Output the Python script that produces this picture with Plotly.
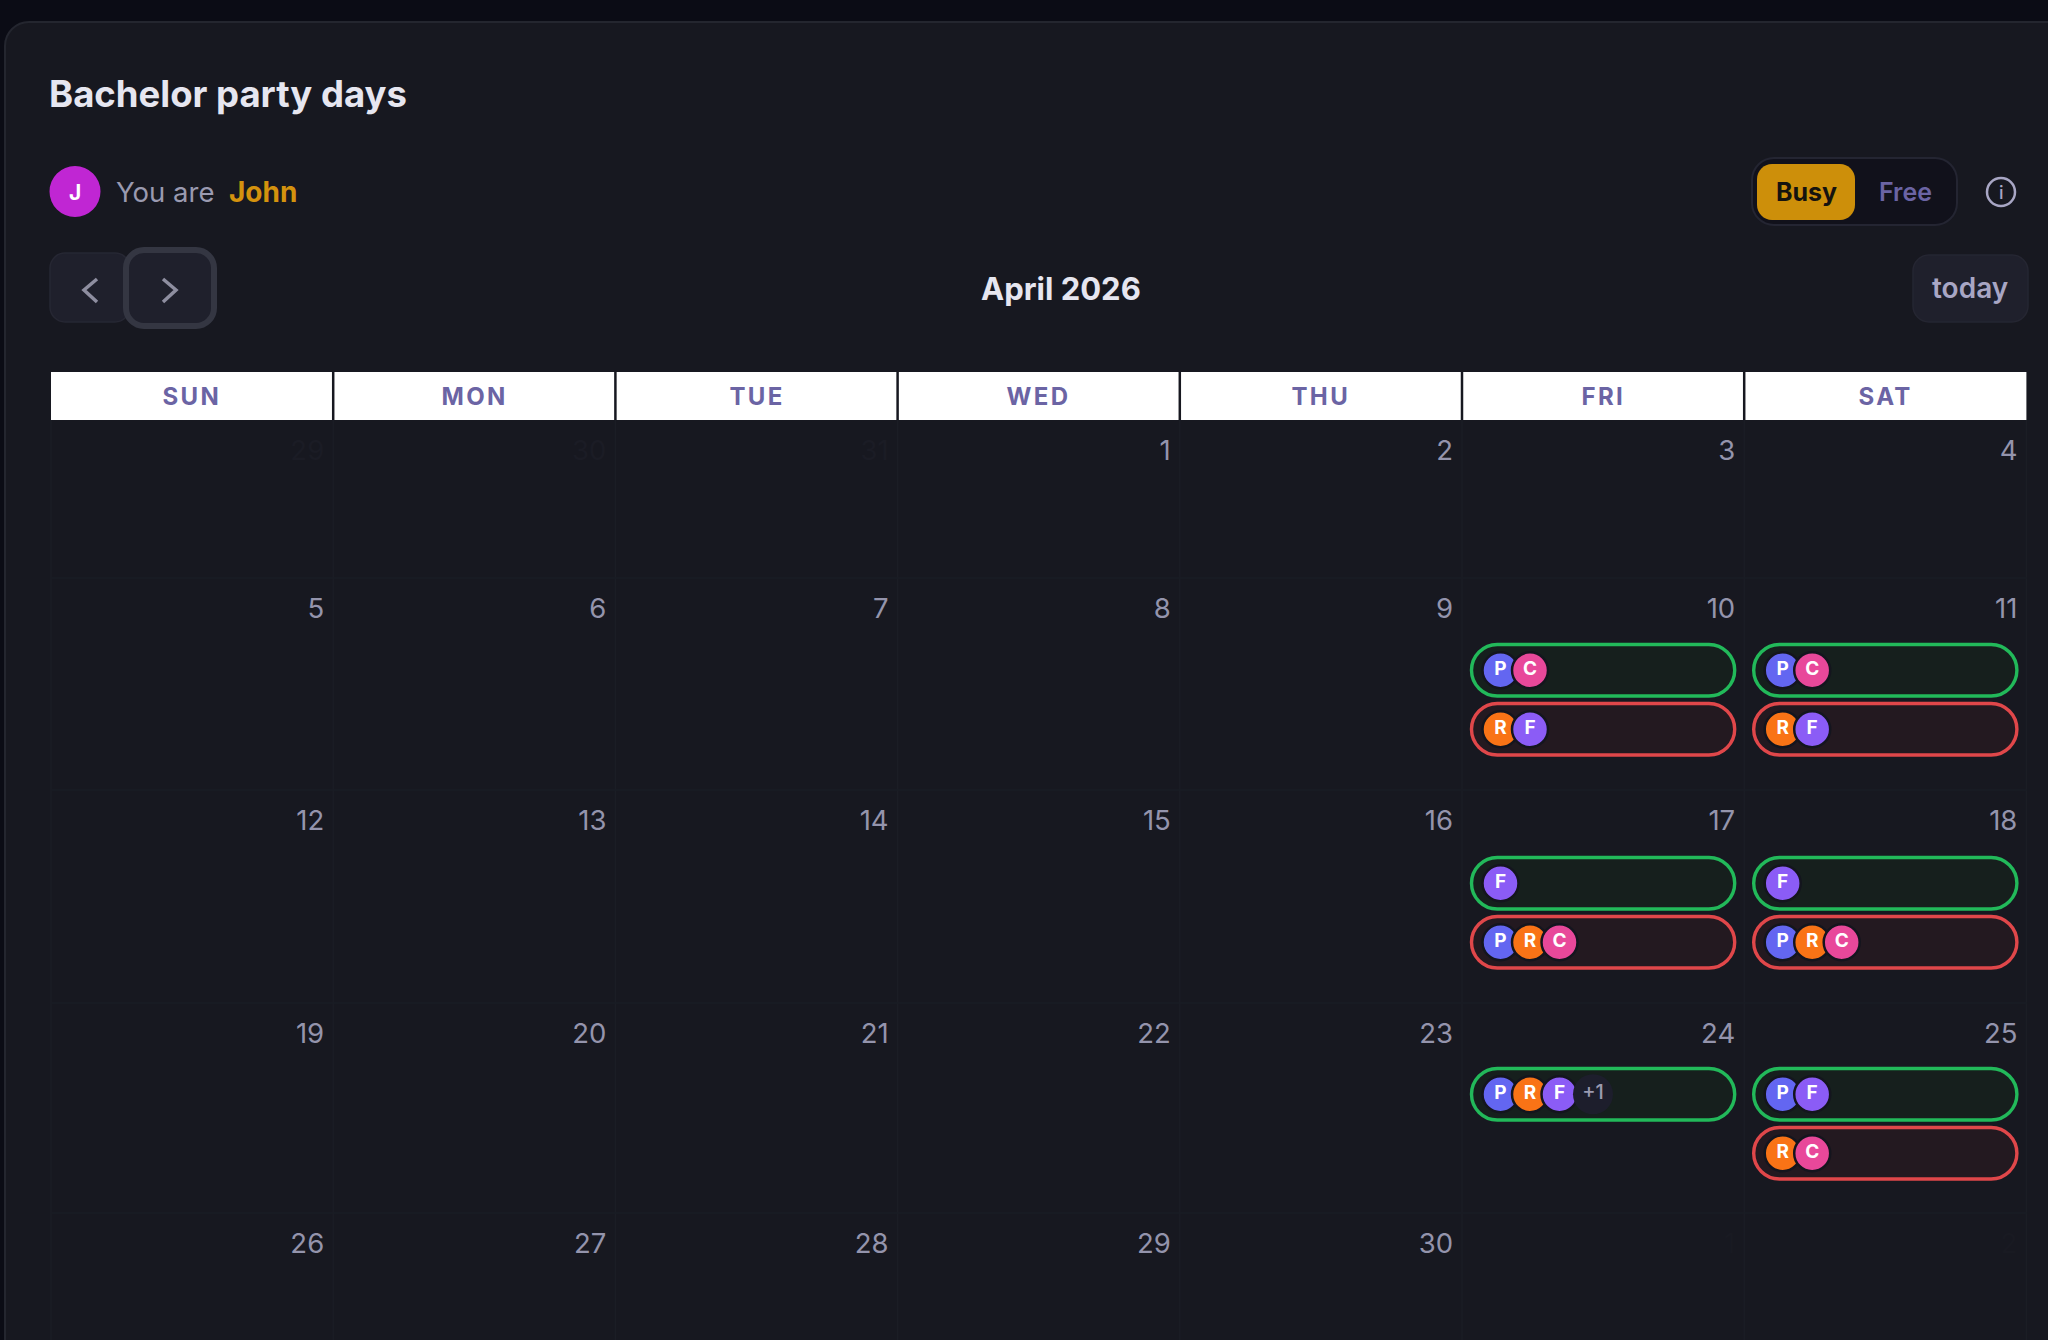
import plotly.graph_objects as go

# chart content
title = "Bachelor party days"
month_label = "April 2026"
user_name = "John"
weekdays = ["SUN", "MON", "TUE", "WED", "THU", "FRI", "SAT"]
month_days = list(range(1, 31))
prev_days = [29, 30, 31]
next_days = [1, 2]
first_col = 3

free_days = {10: "PC", 11: "PC", 17: "F", 18: "F", 24: "PRF", 25: "PF"}
busy_days = {10: "RF", 11: "RF", 17: "PRC", 18: "PRC", 25: "RC"}
extra_free = {24: "+1"}

people_colors = {"P": "#6366f1", "C": "#e8489a", "R": "#f97316", "F": "#8b5cf6"}

# page geometry
W, H = 2048, 1340
grid_left, col_w = 51, 282.2
head_top, head_bottom = 372, 420
week_tops = [420, 578, 790, 1003, 1213]
pill_tops = {1: 644.5, 2: 857.5, 3: 1068.5}
pill_h, pill_gap = 51.5, 59

PANEL = "#171820"
TEXT = "#e6e6f0"
MUTED = "#9a9ab0"
HEAD = "#6b64a4"


def rounded(x0, y0, x1, y1, r):
    k = r * 0.45
    return (f"M {x0+r} {y0} L {x1-r} {y0} C {x1-k} {y0} {x1} {y0+k} {x1} {y0+r} L {x1} {y1-r} "
            f"C {x1} {y1-k} {x1-k} {y1} {x1-r} {y1} L {x0+r} {y1} C {x0+k} {y1} {x0} {y1-k} {x0} {y1-r} "
            f"L {x0} {y0+r} C {x0} {y0+k} {x0+k} {y0} {x0+r} {y0} Z")


def box(fig, x0, y0, x1, y1, r, fill, line=None, width=0):
    fig.add_shape(type="path", path=rounded(x0, y0, x1, y1, r), fillcolor=fill,
                  line=dict(color=line or fill, width=width), layer="below")


def label(fig, x, y, text, size, color, weight=400, anchor="center"):
    fig.add_annotation(x=x, y=y, text=text, showarrow=False, xanchor=anchor, yanchor="middle",
                       font=dict(family="Inter", size=size, color=color, weight=weight))


def col_x(col):
    return grid_left + col * col_w


def cell(day):
    week, col = divmod(day - 1 + first_col, 7)
    return week, col


fig = go.Figure()

# panel
box(fig, 5, 22, W + 60, H + 60, 24, PANEL, "#24262f", 2)

# header band and grid
fig.add_shape(type="rect", x0=grid_left, x1=col_x(7), y0=head_top, y1=head_bottom,
              fillcolor="#ffffff", line_width=0, layer="below")
for c in range(8):
    fig.add_shape(type="line", x0=col_x(c), x1=col_x(c), y0=head_bottom, y1=H,
                  line=dict(color="#1b1d25", width=1.5), layer="below")
for c in range(1, 7):
    fig.add_shape(type="line", x0=col_x(c), x1=col_x(c), y0=head_top, y1=head_bottom,
                  line=dict(color=PANEL, width=2.5), layer="below")
for top in week_tops[1:]:
    fig.add_shape(type="line", x0=grid_left, x1=col_x(7), y0=top, y1=top,
                  line=dict(color="#1a1c24", width=1.5), layer="below")
for c, name in enumerate(weekdays):
    label(fig, col_x(c) + col_w / 2, (head_top + head_bottom) / 2, name, 24, HEAD, 700)

# top bar
label(fig, 47, 94, title, 36.5, TEXT, 700, "left")
fig.add_shape(type="circle", x0=49.5, x1=100.5, y0=166, y1=217, fillcolor="#c026d3", line_width=0, layer="below")
label(fig, 75, 192, "J", 21, "#ffffff", 700)
label(fig, 114, 192, "You are", 27.5, MUTED, 400, "left")
label(fig, 227, 192, user_name, 28, "#d4920e", 700, "left")

box(fig, 1752, 158, 1957, 225, 22, "#11111b", "#242532", 2)
box(fig, 1757, 164, 1855, 220, 15, "#cd8f0a")
label(fig, 1806, 192, "Busy", 25, "#15130f", 700)
label(fig, 1905, 192, "Free", 25, HEAD, 600)
fig.add_shape(type="circle", x0=1987, x1=2015, y0=178, y1=206, line=dict(color="#a8a6c4", width=2.5), layer="below")
label(fig, 2001, 192, "i", 18, "#a8a6c4", 500)

# navigation
box(fig, 50, 253, 130, 322, 15, "#1f202c", "#262733", 1.5)
box(fig, 126, 250, 214, 326, 18, "#1f202c", "#343642", 6)
fig.add_shape(type="path", path="M 97 279 L 84 290 L 97 302", line=dict(color="#8e8ea0", width=3.5), layer="below")
fig.add_shape(type="path", path="M 163 279 L 176 290 L 163 302", line=dict(color="#8e8ea0", width=3.5), layer="below")
label(fig, 1061, 288, month_label, 31, TEXT, 700)
box(fig, 1913, 255, 2028, 322, 16, "#1f202c", "#252632", 1.5)
label(fig, 1970, 288, "today", 28, "#a8a6c4", 600)

# day numbers
num_off = 33
day_x = [col_x(cell(d)[1] + 1) - 9 for d in month_days]
day_y = [week_tops[cell(d)[0]] + num_off for d in month_days]
fig.add_trace(go.Scatter(x=day_x, y=day_y, mode="text", text=[str(d) for d in month_days],
                         textposition="middle left", hoverinfo="skip",
                         textfont=dict(family="Inter", size=27.5, color="#9494ac")))
fig.add_trace(go.Scatter(x=[col_x(c + 1) - 9 for c in range(len(prev_days))], y=[week_tops[0] + num_off] * len(prev_days),
                         mode="text", text=[str(d) for d in prev_days], textposition="middle left", hoverinfo="skip",
                         textfont=dict(family="Inter", size=27.5, color="#1b1c25")))
fig.add_trace(go.Scatter(x=[col_x(5 + i + 1) - 9 for i in range(len(next_days))], y=[week_tops[4] + num_off] * len(next_days),
                         mode="text", text=[str(d) for d in next_days], textposition="middle left", hoverinfo="skip",
                         textfont=dict(family="Inter", size=27.5, color="#191a22")))

# availability pills and avatars
av_x, av_y, av_text, av_color = [], [], [], []
chip_x, chip_y, chip_text = [], [], []


def add_pill(day, people, slot, line, fill):
    week, col = cell(day)
    top = pill_tops[week] + slot * pill_gap
    left = col_x(col) + 9.5
    right = col_x(col + 1) - 9.5
    box(fig, left, top, right, top + pill_h, pill_h / 2, fill, line, 3.4)
    for i, who in enumerate(people):
        av_x.append(left + 29 + i * 29.5)
        av_y.append(top + pill_h / 2)
        av_text.append(who)
        av_color.append(people_colors[who])
    return left, top


for day, people in free_days.items():
    left, top = add_pill(day, people, 0, "#22b95a", "#161f1d")
    if day in extra_free:
        chip_x.append(left + 29 + len(people) * 29.5 + 4)
        chip_y.append(top + pill_h / 2)
        chip_text.append(extra_free[day])
for day, people in busy_days.items():
    slot = 0 if day not in free_days else 1
    add_pill(day, people, slot, "#e0474a", "#231920")

fig.add_trace(go.Scatter(x=av_x, y=av_y, mode="markers+text", text=av_text, hoverinfo="skip",
                         textposition="middle center",
                         textfont=dict(family="Inter", size=19, color="#ffffff", weight=700),
                         marker=dict(size=36, color=av_color, line=dict(color="#14151e", width=2.5))))
fig.add_trace(go.Scatter(x=chip_x, y=chip_y, mode="markers+text", text=chip_text, hoverinfo="skip",
                         textposition="middle center",
                         textfont=dict(family="Inter", size=20, color=MUTED, weight=500),
                         marker=dict(size=40, color="#1d1e2c", line=dict(width=0))))

fig.update_xaxes(range=[0, W], visible=False, fixedrange=True)
fig.update_yaxes(range=[H, 0], visible=False, fixedrange=True)
fig.update_layout(width=W, height=H, margin=dict(l=0, r=0, t=0, b=0), showlegend=False,
                  paper_bgcolor="#0b0c15", plot_bgcolor="#0b0c15")

# tracked-out weekday labels, plotly has no letter spacing option
spacing_js = """
document.body.style.margin='0';document.body.style.background='#0b0c15';
document.querySelectorAll('.annotation-text').forEach(function(t){
  if(%s.indexOf(t.textContent)>=0){t.style.letterSpacing='2.4px';}
});
""" % (str(weekdays))

fig.write_html("out.html", config={"displayModeBar": False}, post_script=spacing_js)
